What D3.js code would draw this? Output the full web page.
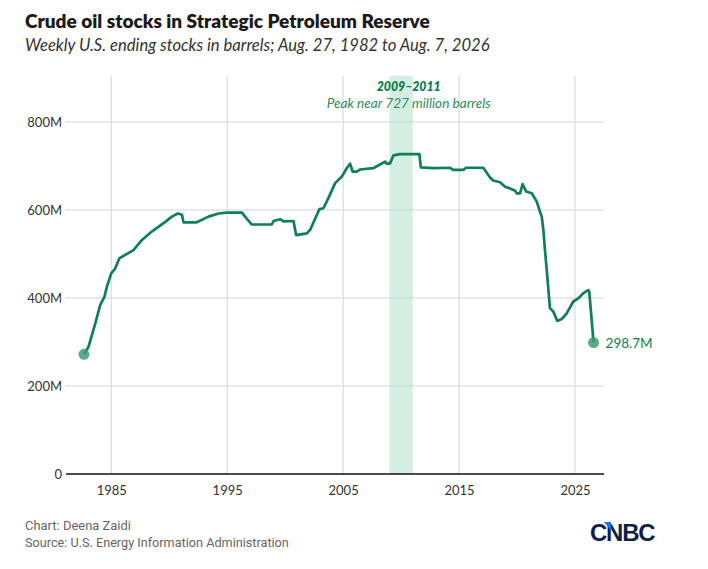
<!DOCTYPE html>
<html><head><meta charset="utf-8">
<script src="https://cdn.jsdelivr.net/npm/d3@7/dist/d3.min.js"></script>
<style>
html,body{margin:0;padding:0;background:#fff;}
svg{display:block;}
</style></head>
<body>
<svg id="chart" width="708" height="569"></svg>
<script>
// ---- data ----
const years = [1982.65,1983.04,1983.62,1984.05,1984.42,1984.63,1985.00,1985.34,1985.69,1986.92,1987.65,1988.50,1989.66,1990.23,1990.75,1991.10,1991.23,1992.38,1993.39,1994.25,1995.00,1996.27,1996.70,1997.13,1998.85,1999.00,1999.57,1999.86,2000.72,2000.95,2001.87,2002.16,2002.96,2003.30,2003.73,2004.31,2004.89,2005.31,2005.60,2005.83,2006.17,2006.46,2007.60,2008.62,2008.76,2009.05,2009.34,2009.90,2011.58,2011.70,2012.78,2014.22,2014.50,2015.36,2015.60,2017.09,2017.67,2017.95,2018.53,2018.97,2019.40,2019.83,2019.97,2020.26,2020.48,2020.78,2021.27,2021.70,2021.98,2022.13,2022.27,2022.41,2022.56,2022.84,2023.13,2023.47,2023.85,2024.28,2024.85,2025.28,2025.72,2026.15,2026.23,2026.60];
const stocks = [272,289,342,384,403,426,456,467,490,509,532,551,573,585,592,589,572,572,585,592,594,594,580,567,567,575,579,574,575,543,547,555,602,604,627,661,676,695,705,687,687,692,695,710,705,706,724,727,727,697,695,696,691,691,696,696,674,667,663,653,649,644,638,638,659,642,638,619,596,585,555,509,464,377,369,348,352,365,392,399,411,418,414,298.7];
const xTicks = [1985,1995,2005,2015,2025];
const yTicks = [0,200,400,600,800];
const yTickLabels = ["0","200M","400M","600M","800M"];
const band = [2009,2011];
const bandLabel = "2009–2011";
const bandNote = "Peak near 727 million barrels";
const endLabel = "298.7M";
const title = "Crude oil stocks in Strategic Petroleum Reserve";
const subtitle = "Weekly U.S. ending stocks in barrels; Aug. 27, 1982 to Aug. 7, 2026";
const credit = "Chart: Deena Zaidi";
const source = "Source: U.S. Energy Information Administration";

const data = years.map((y,i)=>({year:y, value:stocks[i]}));

const svg = d3.select("#chart");
const green = "#0f7f55";
const x = d3.scaleLinear().domain([1981.1, 2027.5]).range([66, 604]);
const y = d3.scaleLinear().domain([0, 800]).range([474, 122]);
const topY = y(905);

function fitText(sel, target){
  const n = sel.node();
  const fs = parseFloat(sel.attr("font-size"));
  const w = n.getComputedTextLength();
  if (w>0) sel.attr("font-size", (fs*target/w).toFixed(2));
  return sel;
}

// title & subtitle
fitText(svg.append("text").attr("x",25).attr("y",28)
  .attr("font-family","Lato, 'Open Sans', sans-serif").attr("font-weight",800)
  .attr("font-size",18).attr("fill","#1a1a1a").text(title), 405);
fitText(svg.append("text").attr("x",25).attr("y",51)
  .attr("font-family","Lato, 'Open Sans', sans-serif").attr("font-style","italic")
  .attr("font-size",15).attr("fill","#333").text(subtitle), 465);

// band
svg.append("rect").attr("x",x(band[0])).attr("y",topY)
  .attr("width",x(band[1])-x(band[0])).attr("height",y(0)-topY)
  .attr("fill","#d4efe1");

// gridlines
svg.append("g").selectAll("line").data(xTicks).join("line")
  .attr("x1",d=>x(d)).attr("x2",d=>x(d)).attr("y1",topY).attr("y2",y(0))
  .attr("stroke","#d3d3d3").attr("stroke-width",1);
svg.append("g").selectAll("line").data(yTicks.filter(d=>d>0)).join("line")
  .attr("x1",x.range()[0]).attr("x2",x.range()[1]).attr("y1",d=>y(d)).attr("y2",d=>y(d))
  .attr("stroke","#d3d3d3").attr("stroke-width",1);

// axes using d3 axis generators
const yAxis = d3.axisLeft(y).tickValues(yTicks).tickFormat((d,i)=>yTickLabels[i]).tickSize(0).tickPadding(4);
const gy = svg.append("g").attr("transform",`translate(${x.range()[0]},0)`).call(yAxis);
gy.select(".domain").remove();
gy.selectAll("text").attr("font-family","Lato, 'Open Sans', sans-serif").attr("font-size",13).attr("fill","#333");

const xAxis = d3.axisBottom(x).tickValues(xTicks).tickFormat(d3.format("d")).tickSize(0).tickPadding(12);
const gx = svg.append("g").attr("transform",`translate(0,${y(0)})`).call(xAxis);
gx.select(".domain").remove();
gx.selectAll("text").attr("font-family","Lato, 'Open Sans', sans-serif").attr("font-size",13).attr("fill","#333");

svg.append("line").attr("x1",x.range()[0]).attr("x2",x.range()[1])
  .attr("y1",y(0)).attr("y2",y(0)).attr("stroke","#111").attr("stroke-width",1.6);

// line
const line = d3.line().x(d=>x(d.year)).y(d=>y(d.value));
svg.append("path").datum(data).attr("d",line).attr("fill","none")
  .attr("stroke",green).attr("stroke-width",2.7).attr("stroke-linejoin","round");

// dots
const ends = [data[0], data[data.length-1]];
svg.append("g").selectAll("circle").data(ends).join("circle")
  .attr("cx",d=>x(d.year)).attr("cy",d=>y(d.value)).attr("r",5.5)
  .attr("fill","#3c9e72").attr("fill-opacity",0.85);

svg.append("text").attr("x",x(ends[1].year)+12).attr("y",y(ends[1].value)+5)
  .attr("font-family","Lato, 'Open Sans', sans-serif").attr("font-size",13.5)
  .attr("fill",green).text(endLabel);

// annotation
const ax = 408.7;
fitText(svg.append("text").attr("x",ax).attr("y",91).attr("text-anchor","middle")
  .attr("font-family","Lato, 'Open Sans', sans-serif").attr("font-weight",800).attr("font-style","italic")
  .attr("font-size",12.5).attr("fill",green).text(bandLabel), 64);
fitText(svg.append("text").attr("x",ax).attr("y",108).attr("text-anchor","middle")
  .attr("font-family","Lato, 'Open Sans', sans-serif").attr("font-style","italic")
  .attr("font-size",12).attr("fill","#2a8c62").text(bandNote), 164);

// footer
fitText(svg.append("text").attr("x",25).attr("y",530)
  .attr("font-family","Roboto, sans-serif").attr("font-size",12)
  .attr("fill","#666").text(credit), 106);
fitText(svg.append("text").attr("x",25).attr("y",547)
  .attr("font-family","Roboto, sans-serif").attr("font-size",12)
  .attr("fill","#666").text(source), 264);

// CNBC logo
const logo = svg.append("g");
const lt = logo.append("text").attr("x",590).attr("y",541)
  .attr("font-family","'Liberation Sans', Arial, sans-serif").attr("font-weight",700)
  .attr("font-size",22).attr("fill","#0f1f45").attr("letter-spacing",-1.2).text("CNBC");
fitText(lt, 64);
logo.append("path").attr("d","M604,522 L611,522 L611,531 Z").attr("fill","#1f6fe0");
</script>
</body></html>
